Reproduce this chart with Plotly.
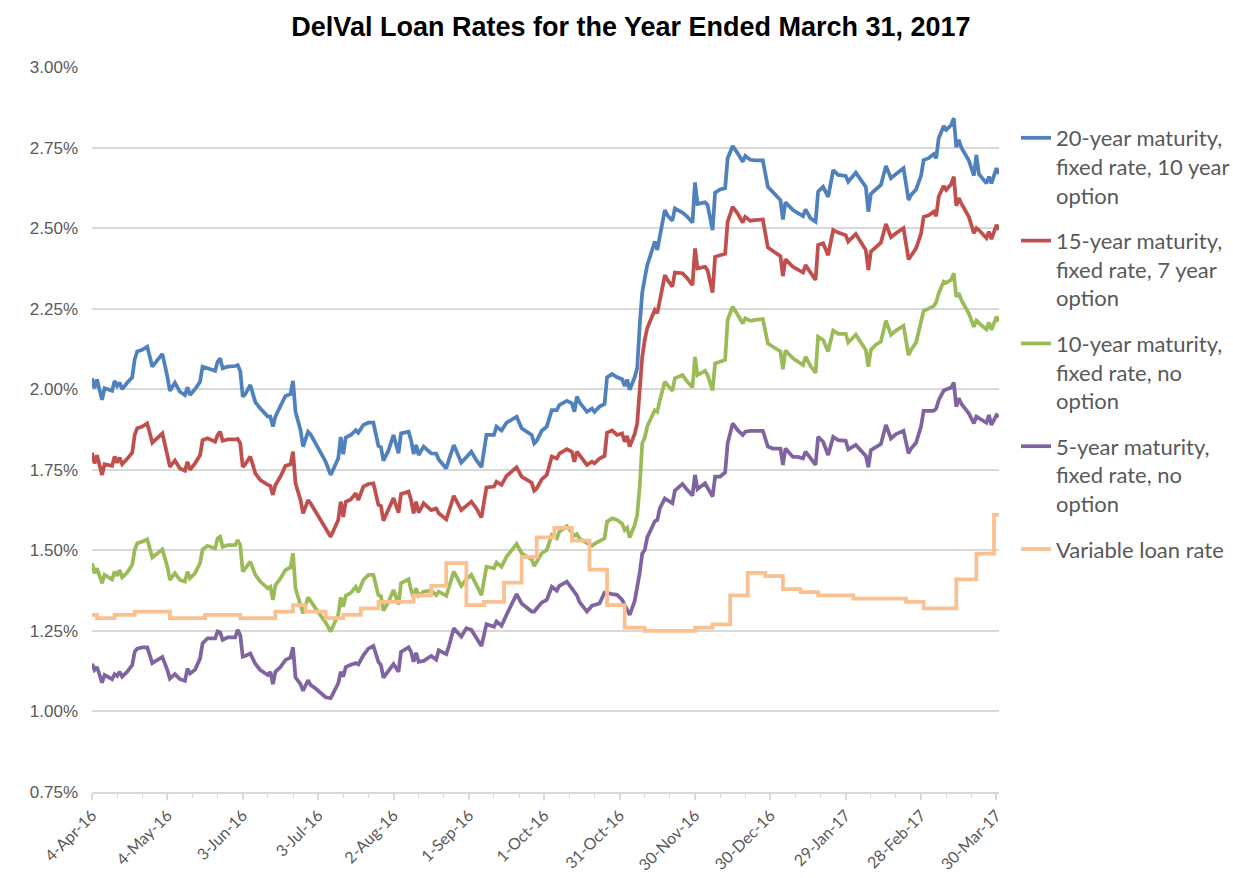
import pandas as pd
import plotly.graph_objects as go

# Business-day observations, as day offsets from 4 Apr 2016
day = [
    0, 1, 2, 4, 5, 8, 9, 10, 11, 12,
    14, 16, 17, 18, 20, 22, 24, 26, 28, 30,
    31, 33, 35, 37, 38, 39, 41, 43, 44, 46,
    49, 50, 51, 52, 54, 57, 58, 59, 60, 61,
    63, 65, 67, 70, 71, 72, 73, 75, 77, 79,
    80, 81, 83, 84, 86, 87, 89, 93, 95, 98,
    99, 100, 101, 103, 105, 106, 108, 110, 112, 114,
    115, 116, 118, 120, 122, 123, 126, 127, 128, 129,
    130, 132, 135, 137, 138, 141, 142, 144, 147, 149,
    151, 153, 155, 157, 160, 161, 163, 165, 169, 171,
    175, 176, 177, 179, 181, 183, 185, 186, 189, 191,
    192, 193, 194, 197, 199, 200, 202, 204, 205, 207,
    209, 211, 212, 213, 214, 216, 217, 218, 219, 220,
    221, 224, 225, 226, 228, 229, 231, 232, 235, 237,
    239, 240, 241, 244, 245, 247, 248, 250, 252, 253,
    255, 257, 259, 260, 262, 264, 267, 269, 271, 274,
    275, 276, 279, 281, 283, 284, 286, 288, 289, 291,
    293, 295, 297, 300, 301, 304, 308, 309, 310, 312,
    314, 316, 318, 320, 323, 325, 326, 328, 330, 331,
    333, 335, 336, 337, 339, 340, 342, 343, 344, 345,
    346, 349, 351, 352, 353, 356, 357, 358, 360, 361,
]

rate_20y = [
    2.034, 2.003, 2.03, 1.967, 2.003, 1.995, 2.026, 2.01, 2.02, 2.0,
    2.02, 2.037, 2.093, 2.117, 2.122, 2.132, 2.07, 2.09, 2.11, 2.039,
    1.995, 2.02, 1.992, 1.982, 2.006, 1.982, 2.0, 2.023, 2.07, 2.065,
    2.057, 2.085, 2.096, 2.065, 2.07, 2.072, 2.075, 2.057, 1.977, 1.985,
    2.013, 1.96, 1.94, 1.915, 1.915, 1.884, 1.915, 1.948, 1.979, 1.985,
    2.026, 1.93, 1.873, 1.822, 1.868, 1.86, 1.83, 1.775, 1.734, 1.785,
    1.852, 1.798, 1.85, 1.858, 1.873, 1.865, 1.889, 1.896, 1.896, 1.824,
    1.82, 1.778, 1.81, 1.858, 1.801, 1.863, 1.868, 1.842, 1.799, 1.827,
    1.796, 1.822, 1.801, 1.80, 1.782, 1.754, 1.78, 1.827, 1.772, 1.79,
    1.806, 1.78, 1.758, 1.858, 1.858, 1.884, 1.872, 1.896, 1.915, 1.879,
    1.858, 1.832, 1.84, 1.871, 1.884, 1.935, 1.935, 1.951, 1.964, 1.956,
    1.93, 1.977, 1.96, 1.93, 1.94, 1.93, 1.946, 1.954, 2.037, 2.047,
    2.037, 2.031, 2.01, 2.03, 1.998, 2.037, 2.065, 2.2, 2.3, 2.344,
    2.385, 2.458, 2.432, 2.474, 2.556, 2.54, 2.523, 2.561, 2.548, 2.535,
    2.517, 2.642, 2.575, 2.58, 2.572, 2.494, 2.61, 2.62, 2.624, 2.717,
    2.755, 2.732, 2.706, 2.724, 2.712, 2.71, 2.71, 2.628, 2.61, 2.587,
    2.527, 2.58, 2.556, 2.548, 2.537, 2.558, 2.53, 2.52, 2.613, 2.628,
    2.597, 2.68, 2.665, 2.662, 2.644, 2.672, 2.628, 2.551, 2.606, 2.62,
    2.634, 2.693, 2.655, 2.668, 2.686, 2.587, 2.603, 2.62, 2.663, 2.711,
    2.717, 2.73, 2.717, 2.779, 2.817, 2.805, 2.82, 2.841, 2.751, 2.774,
    2.75, 2.71, 2.663, 2.727, 2.668, 2.639, 2.66, 2.639, 2.686, 2.668,
]

rate_15y = [
    1.803, 1.77, 1.795, 1.734, 1.767, 1.762, 1.791, 1.772, 1.788, 1.767,
    1.784, 1.803, 1.858, 1.879, 1.884, 1.894, 1.834, 1.85, 1.863, 1.795,
    1.759, 1.779, 1.754, 1.747, 1.775, 1.75, 1.77, 1.795, 1.842, 1.848,
    1.837, 1.858, 1.868, 1.84, 1.844, 1.844, 1.846, 1.832, 1.759, 1.767,
    1.791, 1.739, 1.718, 1.703, 1.7, 1.672, 1.703, 1.729, 1.762, 1.767,
    1.806, 1.708, 1.656, 1.615, 1.656, 1.646, 1.62, 1.573, 1.542, 1.594,
    1.651, 1.604, 1.651, 1.658, 1.677, 1.656, 1.698, 1.706, 1.708, 1.641,
    1.638, 1.592, 1.625, 1.662, 1.617, 1.675, 1.682, 1.656, 1.615, 1.651,
    1.617, 1.646, 1.625, 1.63, 1.615, 1.596, 1.62, 1.669, 1.625, 1.64,
    1.651, 1.63, 1.602, 1.695, 1.698, 1.713, 1.703, 1.731, 1.758, 1.729,
    1.71, 1.685, 1.692, 1.72, 1.734, 1.791, 1.785, 1.8, 1.814, 1.806,
    1.775, 1.806, 1.795, 1.765, 1.775, 1.77, 1.785, 1.793, 1.865, 1.872,
    1.858, 1.863, 1.837, 1.855, 1.822, 1.861, 1.894, 2.018, 2.1, 2.153,
    2.19, 2.246, 2.236, 2.275, 2.354, 2.34, 2.318, 2.362, 2.36, 2.344,
    2.323, 2.437, 2.375, 2.38, 2.37, 2.3, 2.411, 2.416, 2.42, 2.52,
    2.566, 2.545, 2.517, 2.535, 2.523, 2.525, 2.527, 2.44, 2.43, 2.413,
    2.351, 2.403, 2.38, 2.372, 2.362, 2.385, 2.36, 2.339, 2.448, 2.453,
    2.416, 2.494, 2.486, 2.478, 2.458, 2.482, 2.432, 2.37, 2.427, 2.442,
    2.455, 2.513, 2.472, 2.484, 2.5, 2.403, 2.416, 2.437, 2.484, 2.535,
    2.54, 2.551, 2.537, 2.598, 2.631, 2.619, 2.637, 2.66, 2.569, 2.593,
    2.577, 2.535, 2.484, 2.5, 2.494, 2.469, 2.489, 2.466, 2.51, 2.494,
]

rate_10y = [
    1.46, 1.429, 1.444, 1.398, 1.424, 1.41, 1.434, 1.421, 1.439, 1.416,
    1.431, 1.455, 1.501, 1.522, 1.527, 1.534, 1.478, 1.491, 1.503, 1.449,
    1.408, 1.429, 1.408, 1.403, 1.434, 1.413, 1.429, 1.46, 1.503, 1.514,
    1.506, 1.537, 1.542, 1.511, 1.516, 1.516, 1.532, 1.516, 1.434, 1.444,
    1.465, 1.424, 1.403, 1.382, 1.387, 1.346, 1.392, 1.413, 1.439, 1.447,
    1.491, 1.382, 1.335, 1.304, 1.354, 1.341, 1.32, 1.276, 1.248, 1.3,
    1.354, 1.325, 1.359, 1.368, 1.387, 1.37, 1.408, 1.424, 1.424, 1.361,
    1.358, 1.313, 1.34, 1.377, 1.332, 1.398, 1.41, 1.377, 1.354, 1.382,
    1.359, 1.372, 1.375, 1.361, 1.372, 1.359, 1.382, 1.434, 1.39, 1.41,
    1.424, 1.392, 1.361, 1.449, 1.444, 1.462, 1.449, 1.48, 1.52, 1.491,
    1.472, 1.451, 1.465, 1.491, 1.501, 1.548, 1.537, 1.558, 1.575, 1.553,
    1.545, 1.55, 1.537, 1.522, 1.514, 1.52, 1.53, 1.537, 1.589, 1.599,
    1.594, 1.583, 1.563, 1.57, 1.54, 1.578, 1.61, 1.698, 1.832, 1.85,
    1.885, 1.935, 1.93, 1.966, 2.023, 2.013, 1.995, 2.034, 2.044, 2.023,
    2.006, 2.1, 2.044, 2.057, 2.044, 1.996, 2.08, 2.085, 2.091, 2.215,
    2.256, 2.231, 2.204, 2.22, 2.212, 2.215, 2.218, 2.142, 2.132, 2.117,
    2.062, 2.12, 2.096, 2.085, 2.075, 2.101, 2.072, 2.051, 2.163, 2.153,
    2.117, 2.182, 2.172, 2.172, 2.145, 2.169, 2.122, 2.07, 2.122, 2.138,
    2.148, 2.213, 2.169, 2.182, 2.197, 2.106, 2.122, 2.145, 2.204, 2.243,
    2.25, 2.258, 2.27, 2.298, 2.334, 2.33, 2.34, 2.36, 2.287, 2.298,
    2.277, 2.235, 2.194, 2.213, 2.205, 2.186, 2.207, 2.184, 2.225, 2.21,
]

rate_5y = [
    1.148, 1.129, 1.138, 1.089, 1.113, 1.1, 1.116, 1.11, 1.123, 1.108,
    1.123, 1.144, 1.185, 1.195, 1.199, 1.199, 1.15, 1.16, 1.169, 1.128,
    1.102, 1.116, 1.1, 1.095, 1.133, 1.118, 1.129, 1.164, 1.211, 1.227,
    1.227, 1.248, 1.245, 1.222, 1.23, 1.23, 1.253, 1.237, 1.17, 1.172,
    1.18, 1.148, 1.128, 1.113, 1.123, 1.085, 1.123, 1.138, 1.16, 1.167,
    1.199, 1.106, 1.085, 1.064, 1.097, 1.082, 1.071, 1.044, 1.041, 1.087,
    1.123, 1.108, 1.138, 1.145, 1.15, 1.146, 1.174, 1.195, 1.203, 1.154,
    1.144, 1.105, 1.125, 1.147, 1.123, 1.185, 1.199, 1.185, 1.154, 1.182,
    1.154, 1.157, 1.172, 1.161, 1.19, 1.178, 1.201, 1.258, 1.232, 1.258,
    1.253, 1.227, 1.203, 1.271, 1.263, 1.279, 1.266, 1.3, 1.364, 1.335,
    1.31, 1.31, 1.32, 1.338, 1.346, 1.387, 1.375, 1.39, 1.403, 1.382,
    1.37, 1.36, 1.34, 1.31, 1.328, 1.33, 1.335, 1.369, 1.369, 1.364,
    1.362, 1.346, 1.33, 1.32, 1.3, 1.343, 1.38, 1.43, 1.49, 1.501,
    1.54, 1.59, 1.594, 1.63, 1.661, 1.656, 1.646, 1.685, 1.706, 1.687,
    1.67, 1.734, 1.69, 1.708, 1.695, 1.667, 1.729, 1.729, 1.742, 1.832,
    1.894, 1.873, 1.858, 1.868, 1.871, 1.871, 1.871, 1.822, 1.816, 1.816,
    1.765, 1.816, 1.79, 1.79, 1.785, 1.806, 1.785, 1.765, 1.852, 1.837,
    1.796, 1.852, 1.842, 1.84, 1.813, 1.827, 1.793, 1.758, 1.811, 1.822,
    1.83, 1.889, 1.847, 1.861, 1.871, 1.801, 1.816, 1.834, 1.886, 1.933,
    1.933, 1.933, 1.94, 1.966, 1.996, 2.0, 2.005, 2.021, 1.946, 1.972,
    1.955, 1.925, 1.894, 1.915, 1.91, 1.896, 1.92, 1.889, 1.92, 1.915,
]

# Variable loan rate: day each new rate takes effect, and the rate
var_day = [0, 2, 9, 17, 31, 45, 59, 73, 80, 85, 93, 100, 107, 114, 128, 135,
           141, 149, 156, 164, 171, 177, 184, 191, 198, 205, 212, 220, 240,
           247, 254, 261, 268, 275, 282, 289, 303, 324, 331, 344, 352, 359, 361]
var_rate = [1.30, 1.29, 1.30, 1.31, 1.29, 1.30, 1.29, 1.31, 1.33, 1.31, 1.29,
            1.30, 1.32, 1.34, 1.36, 1.39, 1.46, 1.33, 1.34, 1.40, 1.48, 1.54,
            1.57, 1.53, 1.44, 1.33, 1.26, 1.25, 1.26, 1.27, 1.36, 1.43, 1.42,
            1.38, 1.37, 1.36, 1.35, 1.34, 1.32, 1.41, 1.49, 1.61, 1.61]

series_names = [
    "20-year maturity,<br>fixed rate, 10 year<br>option",
    "15-year maturity,<br>fixed rate, 7 year<br>option",
    "10-year maturity,<br>fixed rate, no<br>option",
    "5-year maturity,<br>fixed rate, no<br>option",
    "Variable loan rate",
]
series_colors = ["#4F81BD", "#C0504D", "#9BBB59", "#8064A2", "#FAC090"]

start = pd.Timestamp("2016-04-04")
dates = start + pd.to_timedelta(day, unit="D")
var_dates = start + pd.to_timedelta(var_day, unit="D")

fig = go.Figure()
for i, vals in enumerate([rate_20y, rate_15y, rate_10y, rate_5y]):
    fig.add_trace(go.Scatter(
        x=dates, y=vals, mode="lines", name=series_names[i],
        legendgroup=f"g{i}",
        line=dict(color=series_colors[i], width=3.75),
    ))
fig.add_trace(go.Scatter(
    x=var_dates, y=var_rate, mode="lines", name=series_names[4],
    legendgroup="g4",
    line=dict(color=series_colors[4], width=3.75, shape="hv"),
))

DAY_MS = 86400000
grey = "#595959"
fig.update_layout(
    width=1233, height=878,
    margin=dict(l=92, r=234, t=67, b=86, autoexpand=False),
    paper_bgcolor="white", plot_bgcolor="white",
    title=dict(
        text="<b>DelVal Loan Rates for the Year Ended March 31, 2017</b>",
        font=dict(family="Liberation Sans, Arial, sans-serif", size=27, color="black"),
        x=631 / 1233, xref="container", xanchor="center",
        y=1 - 27 / 878, yref="container", yanchor="middle",
    ),
    legend=dict(
        x=1016 / 1233, xref="container", xanchor="left",
        y=1 - 117 / 878, yref="container", yanchor="top",
        maxheight=700,
        font=dict(family="Lato, sans-serif", size=22, color=grey),
        valign="top", tracegroupgap=14,
        bgcolor="rgba(0,0,0,0)",
    ),
    showlegend=True,
)
fig.update_xaxes(
    type="date", automargin=False,
    range=[start, start + pd.Timedelta(days=361)],
    tick0=start, dtick=30 * DAY_MS,
    tickformat="%-d-%b-%y", tickangle=-45,
    tickfont=dict(family="Lato, sans-serif", size=16, color=grey),
    showgrid=False, zeroline=False,
    showline=True, linecolor="#D9D9D9", linewidth=1.5,
    ticks="outside", ticklen=6, tickcolor="#D9D9D9", tickwidth=1.5,
    minor=dict(dtick=10 * DAY_MS, tick0=start, ticks="outside", ticklen=4,
               tickcolor="#D9D9D9", tickwidth=1.2, showgrid=False),
)
fig.update_yaxes(
    automargin=False,
    range=[0.75, 3.0], dtick=0.25, tick0=0.75,
    tickformat=".2f", ticksuffix="%",
    tickfont=dict(family="Liberation Sans, Arial, sans-serif", size=17, color=grey),
    showgrid=True, gridcolor="#D9D9D9", gridwidth=1.5,
    zeroline=False, showline=False, ticks="", ticklabelstandoff=13,
)

fig.write_html("out.html")
